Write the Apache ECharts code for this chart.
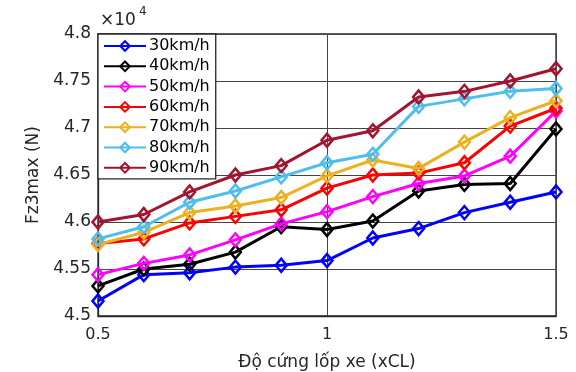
<!DOCTYPE html>
<html>
<head>
<meta charset="utf-8">
<script src="https://cdn.jsdelivr.net/npm/echarts@6/dist/echarts.min.js"></script>
<style>html,body{margin:0;padding:0;background:#fff}#c{width:576px;height:372px}</style>
</head>
<body>
<div id="c"></div>
<script>
const xValues = [0.5, 0.6, 0.7, 0.8, 0.9, 1.0, 1.1, 1.2, 1.3, 1.4, 1.5];
const seriesNames = ['30km/h', '40km/h', '50km/h', '60km/h', '70km/h', '80km/h', '90km/h'];
const v30 = [4.516, 4.544, 4.546, 4.552, 4.554, 4.559, 4.583, 4.593, 4.610, 4.621, 4.632];
const v40 = [4.532, 4.550, 4.555, 4.568, 4.595, 4.592, 4.601, 4.633, 4.640, 4.641, 4.699];
const v50 = [4.544, 4.556, 4.565, 4.581, 4.598, 4.611, 4.627, 4.641, 4.649, 4.670, 4.718];
const v60 = [4.577, 4.582, 4.599, 4.606, 4.613, 4.636, 4.650, 4.652, 4.663, 4.702, 4.721];
const v70 = [4.576, 4.589, 4.610, 4.617, 4.626, 4.649, 4.666, 4.657, 4.685, 4.711, 4.729];
const v80 = [4.582, 4.595, 4.621, 4.633, 4.648, 4.663, 4.672, 4.723, 4.731, 4.739, 4.742];
const v90 = [4.600, 4.608, 4.632, 4.650, 4.660, 4.687, 4.697, 4.733, 4.739, 4.750, 4.763];
const allValues = [v30, v40, v50, v60, v70, v80, v90];
const colors = ['#0000FF', '#000000', '#FF00FF', '#FF0000', '#EDB120', '#4DBEEE', '#A2142F'];
const yTicks = { min: 4.5, max: 4.8, interval: 0.05 };
const xTicks = { min: 0.5, max: 1.5, interval: 0.5 };

const FONT = 'DejaVu Sans';
const chart = echarts.init(document.getElementById('c'), null, { renderer: 'canvas' });
const series = seriesNames.map((name, i) => ({
  name: name,
  type: 'line',
  data: xValues.map((x, j) => [x, allValues[i][j]]),
  symbol: 'diamond',
  symbolSize: [11, 13],
  lineStyle: { color: colors[i], width: 3 },
  itemStyle: { color: 'rgba(255,255,255,0)', borderColor: colors[i], borderWidth: 2.5 },
  animation: false,
  z: 2 + i
}));

chart.setOption({
  animation: false,
  textStyle: { fontFamily: FONT },
  grid: { left: 98, right: 20, top: 34, bottom: 56, outerBoundsMode: 'none', containLabel: false,
    show: true, borderColor: '#262626', borderWidth: 1.3, backgroundColor: '#fff' },
  xAxis: {
    type: 'value', min: xTicks.min, max: xTicks.max, interval: xTicks.interval,
    name: 'Độ cứng lốp xe (xCL)', nameLocation: 'middle', nameGap: 38,
    nameTextStyle: { fontFamily: FONT, fontSize: 17, color: '#262626' },
    axisLine: { show: true, lineStyle: { color: '#262626', width: 1.3 } },
    axisTick: { show: false },
    axisLabel: { fontFamily: FONT, fontSize: 16, color: '#262626', margin: 11,
      formatter: v => String(+v.toFixed(2)) },
    splitLine: { show: true, lineStyle: { color: '#444', width: 1 } }
  },
  yAxis: {
    type: 'value', min: yTicks.min, max: yTicks.max, interval: yTicks.interval,
    name: 'Fz3max (N)', nameLocation: 'middle', nameGap: 56,
    nameTextStyle: { fontFamily: FONT, fontSize: 17, color: '#262626' },
    axisLine: { show: true, lineStyle: { color: '#262626', width: 1.3 } },
    axisTick: { show: false },
    axisLabel: { fontFamily: FONT, fontSize: 17, color: '#262626', margin: 7,
      formatter: v => String(+v.toFixed(2)) },
    splitLine: { show: true, lineStyle: { color: '#444', width: 1 } }
  },
  legend: {
    orient: 'vertical', left: 98, top: 34,
    data: seriesNames,
    itemWidth: 42, itemHeight: 12, itemGap: 0.3,
    padding: [2, 6, 1, 5],
    backgroundColor: '#fff', borderColor: '#262626', borderWidth: 1.3, borderRadius: 0,
    textStyle: { fontFamily: FONT, fontSize: 16, color: '#000', lineHeight: 20, padding: [0, 0, 0, -2] },
    z: 20
  },
  graphic: [
    { type: 'text', left: 100, top: 12, z: 30, style: { text: '×10', font: '17px "DejaVu Sans"', fill: '#262626' } },
    { type: 'text', left: 139, top: 6, z: 30, style: { text: '4', font: '12px "DejaVu Sans"', fill: '#262626' } }
  ],
  series: series
});
</script>
</body>
</html>
